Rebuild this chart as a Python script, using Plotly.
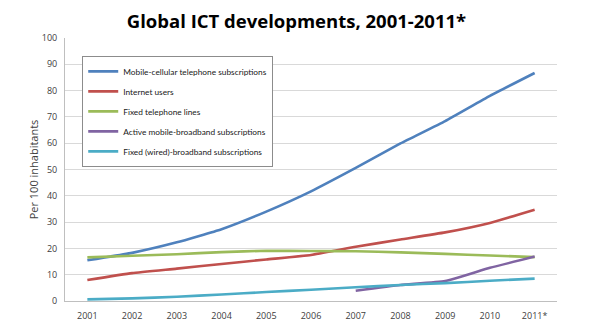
import plotly.graph_objects as go

years = ["2001", "2002", "2003", "2004", "2005", "2006", "2007", "2008", "2009", "2010", "2011*"]

mobile_cellular = [15.5, 18.3, 22.3, 27.3, 34.0, 41.7, 50.6, 59.9, 68.4, 78.0, 86.7]
internet_users = [8.0, 10.6, 12.3, 14.1, 15.8, 17.5, 20.6, 23.4, 26.1, 29.7, 34.7]
fixed_telephone = [16.6, 17.2, 17.8, 18.6, 19.1, 19.0, 18.9, 18.5, 17.9, 17.3, 16.7]
mobile_broadband = [None, None, None, None, None, None, 3.9, 6.1, 7.6, 12.6, 16.9]
fixed_broadband = [0.6, 1.0, 1.6, 2.5, 3.4, 4.3, 5.2, 6.1, 6.8, 7.7, 8.5]

series = [
    ("Mobile-cellular telephone subscriptions", mobile_cellular, "#4F81BD"),
    ("Internet users", internet_users, "#C0504D"),
    ("Fixed telephone lines", fixed_telephone, "#9BBB59"),
    ("Active mobile-broadband subscriptions", mobile_broadband, "#8064A2"),
    ("Fixed (wired)-broadband subscriptions", fixed_broadband, "#4BACC6"),
]

fig = go.Figure()
for i, (name, vals, color) in enumerate(series):
    fig.add_trace(go.Scatter(
        x=years, y=vals, name=name, mode="lines",
        line=dict(color=color, width=2.6, shape="spline", smoothing=0.4),
        legendgroup=str(i),
    ))

fig.update_layout(
    width=593, height=326,
    margin=dict(l=65, r=36, t=38, b=25),
    paper_bgcolor="white", plot_bgcolor="white",
    font=dict(family="Open Sans, Liberation Sans, sans-serif", color="#404040", size=9),
    title=dict(
        text="<b>Global ICT developments, 2001-2011*</b>",
        x=0.5, xanchor="center", y=0.935, yanchor="middle",
        font=dict(size=18.5, color="#000000", family="Open Sans, Liberation Sans, sans-serif"),
    ),
    showlegend=True,
    legend=dict(
        x=0.035, y=0.932, xanchor="left", yanchor="top",
        bgcolor="white", bordercolor="#8C8C8C", borderwidth=1,
        font=dict(size=8.3, color="#202020", family="Lato, Open Sans, sans-serif"),
        tracegroupgap=1,
        itemwidth=30,
    ),
    xaxis=dict(
        type="category", showgrid=False, showline=True, linecolor="#BFBFBF",
        ticks="", ticklabelstandoff=6, tickfont=dict(size=9, color="#404040"),
        range=[-0.5, 10.5], automargin=False,
    ),
    yaxis=dict(
        range=[0, 100], dtick=10, showgrid=True, gridcolor="#D9D9D9", gridwidth=1,
        showline=True, linecolor="#BFBFBF", zeroline=False, ticks="",
        ticklabelstandoff=5, tickfont=dict(size=9, color="#404040"),
        title=dict(text="Per 100 inhabitants", font=dict(size=11, color="#404040"), standoff=0),
        automargin=True,
    ),
)

fig.write_html("out.html")
